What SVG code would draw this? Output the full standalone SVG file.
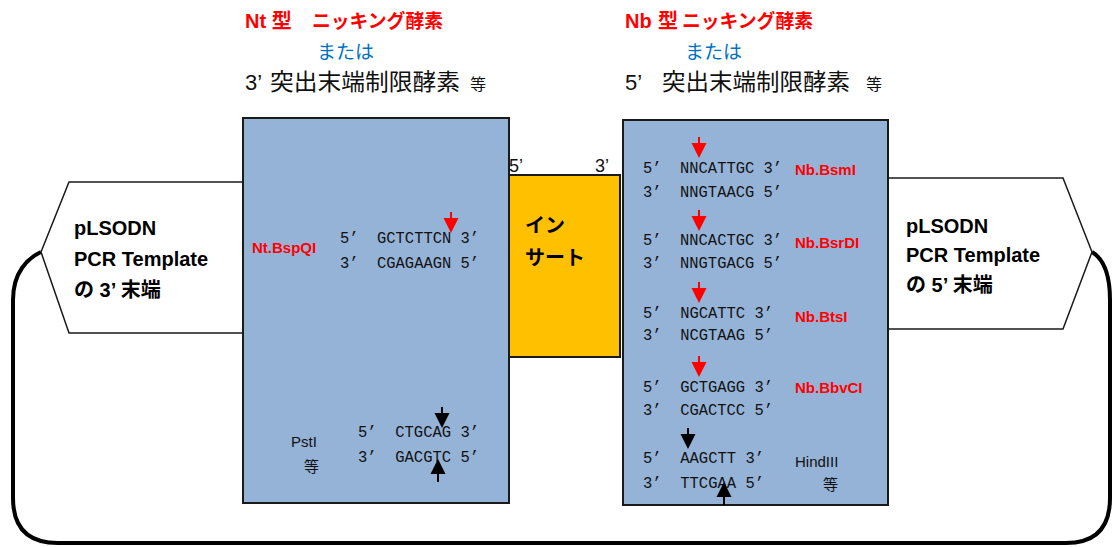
<svg xmlns="http://www.w3.org/2000/svg" xmlns:xlink="http://www.w3.org/1999/xlink" width="1112" height="547" viewBox="0 0 1112 547">
<style>
.box{fill:#95B3D7;stroke:#1a1a1a;stroke-width:2}
.ins{fill:#FFC000;stroke:#1a1a1a;stroke-width:2}
.pent{fill:#fff;stroke:#1a1a1a;stroke-width:1.5}
.loop{fill:none;stroke:#000;stroke-width:4}
.jp{font-family:"Liberation Sans","Noto Sans CJK JP",sans-serif}
.red{fill:#FF0000;font-weight:bold}
.blu{fill:#0070C0}
.blk{fill:#111}
.seq{font-family:"Liberation Mono",monospace;font-size:16px;fill:#111}
.enz{font-family:"Liberation Sans","Noto Sans CJK JP",sans-serif;font-size:15px;font-weight:bold;fill:#FF0000}
.pl{font-family:"Liberation Sans","Noto Sans CJK JP",sans-serif;font-size:20px;font-weight:bold;fill:#000}
.lab{font-family:"Liberation Sans","Noto Sans CJK JP",sans-serif;font-size:15px;fill:#111}
</style>
<defs>
<g id="dnR"><line x1="0" y1="0" x2="0" y2="9" stroke="#FF0000" stroke-width="2"/><polygon points="-7.5,6 7.5,6 0,21" fill="#FF0000"/></g>
<g id="dnK"><line x1="0" y1="0" x2="0" y2="9" stroke="#000" stroke-width="2"/><polygon points="-7.5,6 7.5,6 0,21" fill="#000"/></g>
<g id="upK"><line x1="0" y1="12" x2="0" y2="23" stroke="#000" stroke-width="2"/><polygon points="-7.5,15 7.5,15 0,0" fill="#000"/></g>
</defs>

<g id="connectors">
<path class="loop" d="M41,252 C28,258 13,272 13,300 L13,498 Q13,543 58,543 L1066,543 Q1110,543 1110,498 L1110,300 C1110,272 1102,258 1092,252"/>
</g>

<g id="left-end">
<polygon class="pent" points="69,182 245,182 245,333 69,333 41,252"/>
<text class="pl" x="74" y="235">pLSODN</text>
<text class="pl" x="74" y="266">PCR Template</text>
<text class="pl" x="74" y="297">の 3’ 末端</text>
</g>

<g id="right-end">
<polygon class="pent" points="887,178 1063,178 1092,252 1063,329 887,329"/>
<text class="pl" x="906" y="233">pLSODN</text>
<text class="pl" x="906" y="262">PCR Template</text>
<text class="pl" x="906" y="292">の 5’ 末端</text>
</g>

<g id="nt-header">
<text class="jp red" x="245" y="28" font-size="20">Nt 型</text>
<text class="jp red" x="312" y="28" font-size="19" textLength="131" lengthAdjust="spacingAndGlyphs">ニッキング酵素</text>
<text class="jp blu" x="317" y="59" font-size="19">または</text>
<text class="jp blk" x="245" y="90" font-size="22">3’</text>
<text class="jp blk" x="270" y="90" font-size="23" textLength="190" lengthAdjust="spacingAndGlyphs">突出末端制限酵素</text>
<text class="jp blk" x="470" y="90" font-size="16">等</text>
</g>

<g id="nb-header">
<text class="jp red" x="625" y="28" font-size="20">Nb</text>
<text class="jp red" x="658" y="28" font-size="20">型</text>
<text class="jp red" x="682" y="28" font-size="19" textLength="131" lengthAdjust="spacingAndGlyphs">ニッキング酵素</text>
<text class="jp blu" x="685" y="59" font-size="19">または</text>
<text class="jp blk" x="625" y="90" font-size="22">5’</text>
<text class="jp blk" x="662" y="90" font-size="23" textLength="188" lengthAdjust="spacingAndGlyphs">突出末端制限酵素</text>
<text class="jp blk" x="866" y="90" font-size="16">等</text>
</g>

<g id="nt-box">
<rect class="box" x="243" y="118" width="266" height="385"/>
<text class="enz" x="252" y="253">Nt.BspQI</text>
<text class="seq" x="340" y="243" xml:space="preserve" textLength="139" lengthAdjust="spacingAndGlyphs">5’  GCTCTTCN 3’</text>
<text class="seq" x="340" y="268" xml:space="preserve" textLength="139" lengthAdjust="spacingAndGlyphs">3’  CGAGAAGN 5’</text>
<use xlink:href="#dnR" x="451" y="212"/>
<text class="lab" x="291" y="447">PstI</text>
<text class="lab" x="304" y="472">等</text>
<text class="seq" x="358" y="437" xml:space="preserve" textLength="121" lengthAdjust="spacingAndGlyphs">5’  CTGCAG 3’</text>
<text class="seq" x="358" y="462" xml:space="preserve" textLength="121" lengthAdjust="spacingAndGlyphs">3’  GACGTC 5’</text>
<use xlink:href="#dnK" x="442" y="407"/>
<use xlink:href="#upK" x="438" y="459"/>
</g>

<g id="insert">
<rect class="ins" x="509" y="175" width="111" height="182"/>
<text class="jp blk" x="509" y="172" font-size="18">5’</text>
<text class="jp blk" x="595" y="172" font-size="18">3’</text>
<text class="jp" x="525" y="233" font-size="20" font-weight="bold" fill="#000">イン</text>
<text class="jp" x="525" y="265" font-size="20" font-weight="bold" fill="#000">サート</text>
</g>

<g id="nb-box">
<rect class="box" x="623" y="120" width="265" height="385"/>
<use xlink:href="#dnR" x="699" y="137"/>
<text class="seq" x="643" y="173" xml:space="preserve" textLength="139" lengthAdjust="spacingAndGlyphs">5’  NNCATTGC 3’</text>
<text class="seq" x="643" y="197" xml:space="preserve" textLength="139" lengthAdjust="spacingAndGlyphs">3’  NNGTAACG 5’</text>
<text class="enz" x="795" y="175">Nb.BsmI</text>
<use xlink:href="#dnR" x="699" y="210"/>
<text class="seq" x="643" y="245" xml:space="preserve" textLength="139" lengthAdjust="spacingAndGlyphs">5’  NNCACTGC 3’</text>
<text class="seq" x="643" y="268" xml:space="preserve" textLength="139" lengthAdjust="spacingAndGlyphs">3’  NNGTGACG 5’</text>
<text class="enz" x="795" y="248">Nb.BsrDI</text>
<use xlink:href="#dnR" x="699" y="282"/>
<text class="seq" x="643" y="318" xml:space="preserve" textLength="130" lengthAdjust="spacingAndGlyphs">5’  NGCATTC 3’</text>
<text class="seq" x="643" y="340" xml:space="preserve" textLength="130" lengthAdjust="spacingAndGlyphs">3’  NCGTAAG 5’</text>
<text class="enz" x="795" y="322">Nb.BtsI</text>
<use xlink:href="#dnR" x="699" y="356"/>
<text class="seq" x="643" y="392" xml:space="preserve" textLength="130" lengthAdjust="spacingAndGlyphs">5’  GCTGAGG 3’</text>
<text class="seq" x="643" y="415" xml:space="preserve" textLength="130" lengthAdjust="spacingAndGlyphs">3’  CGACTCC 5’</text>
<text class="enz" x="795" y="393">Nb.BbvCI</text>
<use xlink:href="#dnK" x="688" y="428"/>
<text class="seq" x="643" y="463" xml:space="preserve" textLength="121" lengthAdjust="spacingAndGlyphs">5’  AAGCTT 3’</text>
<text class="seq" x="643" y="488" xml:space="preserve" textLength="121" lengthAdjust="spacingAndGlyphs">3’  TTCGAA 5’</text>
<use xlink:href="#upK" x="724" y="482"/>
<text class="lab" x="795" y="467">HindIII</text>
<text class="lab" x="823" y="490">等</text>
</g>
</svg>
